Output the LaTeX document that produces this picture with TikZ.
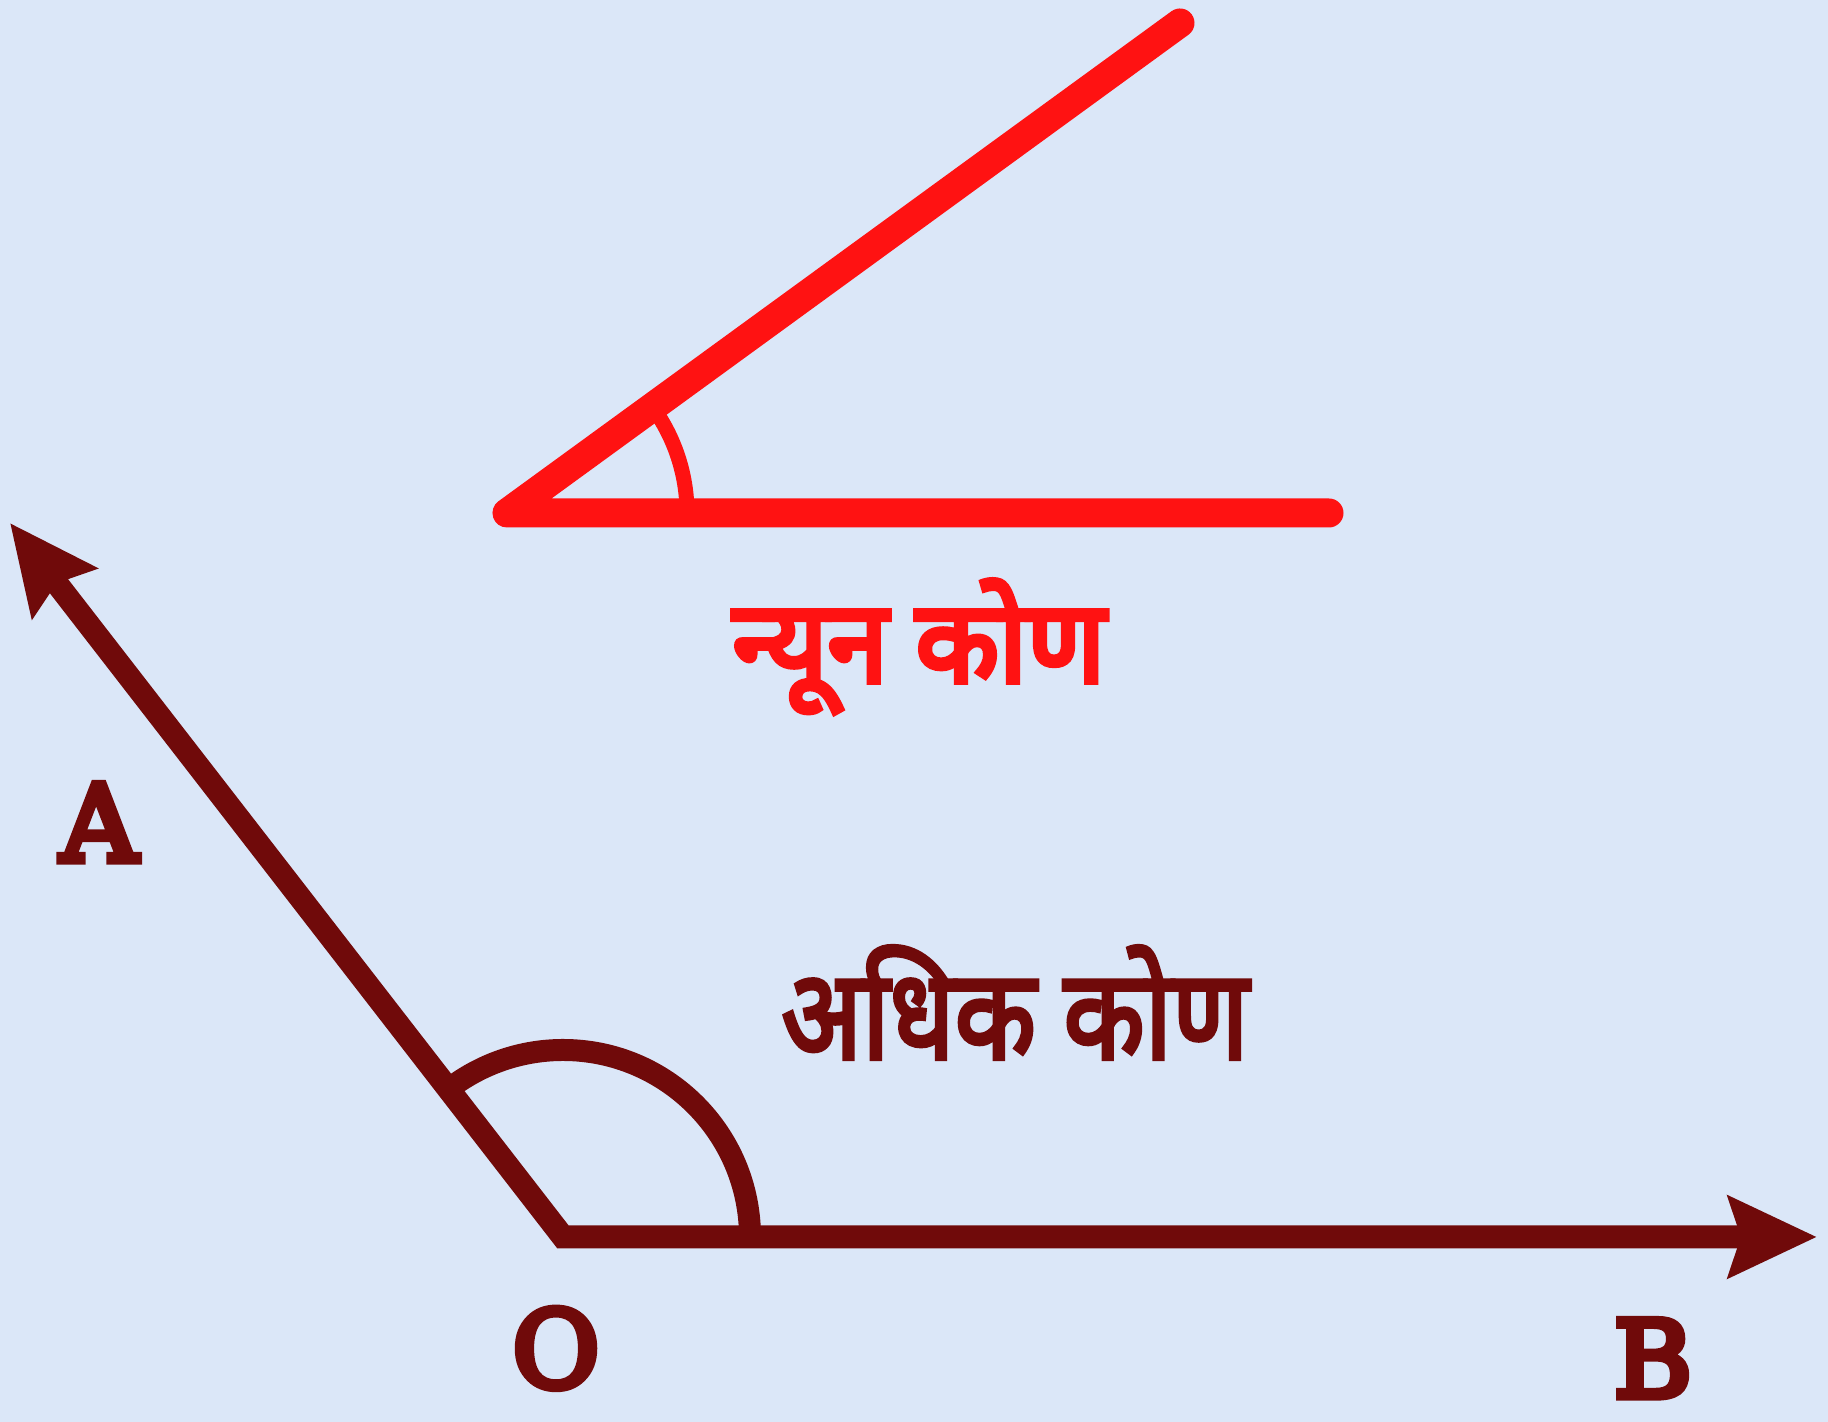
\documentclass[tikz,border=0pt]{standalone}
\usepackage{fontspec}
\newfontfamily\hindired[Script=Devanagari,FakeBold=5]{Noto Sans}
\newfontfamily\hindibrn[Script=Devanagari,FakeBold=3.5]{Noto Sans}
\newfontfamily\lblfont[FakeBold=7]{DejaVu Serif}
\usetikzlibrary{arrows.meta}
\definecolor{bg}{RGB}{219,231,248}
\definecolor{brn}{RGB}{112,10,10}
\definecolor{rd}{RGB}{255,18,18}
\begin{document}
\begin{tikzpicture}[x=0.5pt,y=0.5pt,
  redline/.style={draw=rd,line width=14.5pt,line cap=round,line join=round},
  redarc/.style={draw=rd,line width=7.5pt},
  brnline/.style={draw=brn,line width=11.5pt,
    arrows={Stealth[length=44pt,width=40pt,inset=6pt]-Stealth[length=44pt,width=40pt,inset=6pt]}},
  brnarc/.style={draw=brn,line width=11pt},
  ptlabel/.style={text=brn,font=\lblfont\fontsize{53}{60}\selectfont,anchor=base,inner sep=0pt},
  hinlabel/.style={anchor=base,inner sep=0pt}]
\useasboundingbox (0,0) rectangle (1828,1422);
\fill[bg] (0,0) rectangle (1828,1422);
% acute angle
\coordinate (V) at (507,909);
\coordinate (H) at (1329,909);
\coordinate (U) at (1180,1399);
\draw[redline] (U) -- (V) -- (H);
\draw[redarc] (V) ++(90pt,0) arc[start angle=0,end angle=36.06,radius=90pt];
\node[hinlabel,text=rd,font=\hindired\fontsize{57}{62}\selectfont] (acute) at (919,740) {\scalebox{0.95}[1]{न्यून कोण}};
% obtuse angle
\coordinate (O) at (563,185);
\coordinate (A) at (10,899);
\coordinate (B) at (1817,185);
\draw[brnline] (A) -- (O) -- (B);
\draw[brnarc] (O) ++(93.5pt,0) arc[start angle=0,end angle=127.7,radius=93.5pt];
\node[hinlabel,text=brn,font=\hindibrn\fontsize{63}{70}\selectfont] (obtuse) at (1015,363) {\scalebox{0.84}[1]{अधिक कोण}};
\node[ptlabel] (la) at (99,561) {A};
\node[ptlabel] (lo) at (556,35) {O};
\node[ptlabel] (lb) at (1653,25) {B};
\end{tikzpicture}
\end{document}
